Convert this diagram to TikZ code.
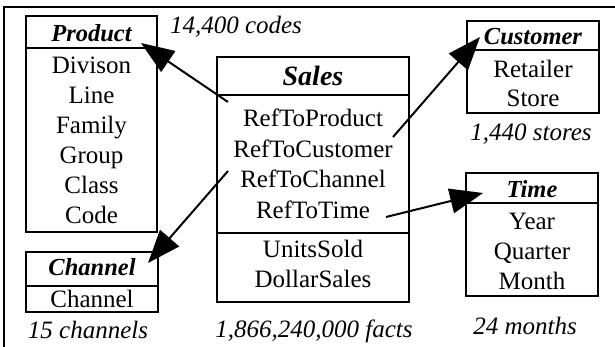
\documentclass[tikz,border=0pt]{standalone}
\usepackage{fontspec}
\setmainfont{Liberation Serif}
\usetikzlibrary{arrows.meta}
\begin{document}
\begin{tikzpicture}[x=1pt,y=-1pt,
  boxshape/.style={draw, line width=2pt, inner sep=0pt},
  sepline/.style={line width=2pt},
  item/.style={anchor=base, inner sep=0pt, font=\fontsize{25}{30}\selectfont},
  head/.style={anchor=base, inner sep=0pt, font=\fontsize{24.5}{30}\selectfont\bfseries\itshape},
  bighead/.style={anchor=base, inner sep=0pt, font=\fontsize{28}{34}\selectfont\bfseries\itshape},
  note/.style={anchor=base, inner sep=0pt, font=\fontsize{25}{30}\selectfont\itshape},
  link/.style={line width=2pt, -{Triangle[length=33pt,width=25pt]}}]
\useasboundingbox (0,0) rectangle (615,346);
\clip (0,0) rectangle (615,346);
% outer frame (only top and left visible)
\draw[line width=2pt] (4,360) -- (4,7) -- (630,7);

% Product
\node[boxshape, minimum width=131pt, minimum height=216pt] (product) at (91.5,124) {};
\draw[sepline] (26,48) -- (157,48);
\node[head] (producth) at (91.5,41) {Product};
\node[item] (p1) at (91.5,73) {Divison};
\node[item] (p2) at (91.5,103) {Line};
\node[item] (p3) at (91.5,133) {Family};
\node[item] (p4) at (91.5,163) {Group};
\node[item] (p5) at (91.5,193) {Class};
\node[item] (p6) at (91.5,223) {Code};
\node[note] (pnote) at (236,33) {14,400 codes};

% Sales
\node[boxshape, minimum width=192pt, minimum height=245pt] (sales) at (313,179.5) {};
\draw[sepline] (217,95) -- (409,95);
\draw[sepline] (217,233) -- (409,233);
\node[bighead] (salesh) at (313,85) {Sales};
\node[item] (s1) at (313,126) {RefToProduct};
\node[item] (s2) at (313,157) {RefToCustomer};
\node[item] (s3) at (313,187) {RefToChannel};
\node[item] (s4) at (313,218) {RefToTime};
\node[item] (s5) at (313,257) {UnitsSold};
\node[item] (s6) at (313,287) {DollarSales};
\node[note] (snote) at (314,337) {1,866,240,000 facts};

% Customer
\node[boxshape, minimum width=132pt, minimum height=92pt] (customer) at (533,67) {};
\draw[sepline] (467,50) -- (599,50);
\node[head] (customerh) at (533,44) {Customer};
\node[item] (c1) at (533,77) {Retailer};
\node[item] (c2) at (533,106) {Store};
\node[note] (cnote) at (531,140) {1,440 stores};

% Time
\node[boxshape, minimum width=132pt, minimum height=123pt] (time) at (532,234.5) {};
\draw[sepline] (466,203) -- (598,203);
\node[head] (timeh) at (532,197) {Time};
\node[item] (t1) at (532,229) {Year};
\node[item] (t2) at (532,259) {Quarter};
\node[item] (t3) at (532,289) {Month};
\node[note] (tnote) at (525,334) {24 months};

% Channel
\node[boxshape, minimum width=132pt, minimum height=60pt] (channel) at (92,282) {};
\draw[sepline] (26,286) -- (158,286);
\node[head] (channelh) at (92,275) {Channel};
\node[item] (ch1) at (92,307) {Channel};
\node[note] (chnote) at (88,338) {15 channels};

% connector end points
\coordinate (a1s) at (228,102);
\coordinate (a1e) at (141,43);
\coordinate (a2s) at (393,137);
\coordinate (a2e) at (480,37);
\coordinate (a3s) at (228,171);
\coordinate (a3e) at (148,263);
\coordinate (a4s) at (386,217);
\coordinate (a4e) at (483,193);

\draw[link] (a1s) -- (a1e);
\draw[link] (a2s) -- (a2e);
\draw[link] (a3s) -- (a3e);
\draw[link] (a4s) -- (a4e);
\end{tikzpicture}
\end{document}
